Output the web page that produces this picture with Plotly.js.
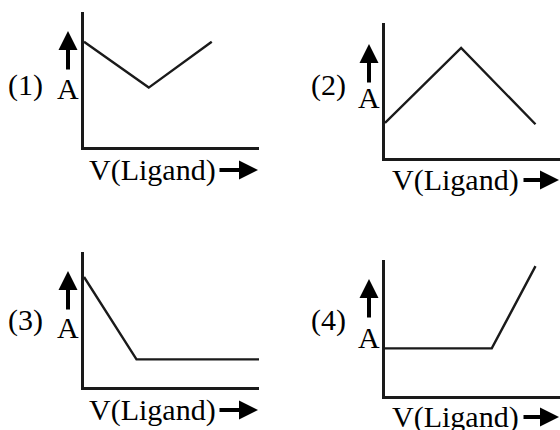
<!DOCTYPE html>
<html>
<head>
<meta charset="utf-8">
<script src="https://cdn.plot.ly/plotly-3.0.1.min.js"></script>
<style>
  html, body { margin: 0; padding: 0; background: #fff; }
  #plot { width: 560px; height: 430px; }
</style>
</head>
<body>
<div id="plot"></div>
<script>
// absorbance vs volume of ligand, four sketches
const panelNames = ["(1)", "(2)", "(3)", "(4)"]
const xLabel = "V(Ligand)"
const yLabel = "A"

const vol1 = [0, 3.7, 7.3]
const abs1 = [7.8, 4.4, 7.8]
const vol2 = [0, 4.35, 8.6]
const abs2 = [2.6, 8.15, 2.5]
const vol3 = [0, 3.0, 10]
const abs3 = [8.15, 2.05, 2.05]
const vol4 = [0, 6.1, 8.6]
const abs4 = [3.5, 3.5, 9.55]

const W = 560, H = 430
const px = v => v / W
const py = v => 1 - v / H

// panel boxes in pixels: left, right, top, bottom
const boxes = [
    [84, 259, 12, 147],
    [385, 560, 23, 158],
    [84, 259, 252, 387],
    [385, 560, 260, 396]
]

const seriesX = [vol1, vol2, vol3, vol4]
const seriesY = [abs1, abs2, abs3, abs4]

let traces = []
let layout = {
    width: W, height: H,
    margin: {l: 0, r: 0, t: 0, b: 0},
    paper_bgcolor: "#fff",
    plot_bgcolor: "rgba(0,0,0,0)",
    showlegend: false,
    font: {family: "Liberation Serif, Times New Roman, serif", color: "#000"},
    annotations: []
}

for (let i = 0; i < 4; i++) {
    let n = i === 0 ? "" : String(i + 1)
    traces.push({
        x: seriesX[i], y: seriesY[i],
        xaxis: "x" + n, yaxis: "y" + n,
        mode: "lines", type: "scatter",
        line: {color: "#1a1a1a", width: 2.4},
        hoverinfo: "skip"
    })
    let b = boxes[i]
    let axisCommon = {
        range: [0, 10], fixedrange: true,
        showgrid: false, zeroline: false,
        showticklabels: false, ticks: "",
        showline: true, linecolor: "#1a1a1a", linewidth: 3
    }
    layout["xaxis" + n] = Object.assign({}, axisCommon, {
        domain: [px(b[0]), px(b[1])], anchor: "y" + n
    })
    layout["yaxis" + n] = Object.assign({}, axisCommon, {
        domain: [py(b[3]), py(b[2])], anchor: "x" + n
    })
}

// labels: [name x, name y, A x, A y, up-arrow tip y, xlabel x, xlabel y, right-arrow tip x]
const labelPos = [
    [25, 85, 68, 88, 31, 153, 170, 258],
    [328, 85, 369, 98, 44, 455, 180, 562],
    [25, 320, 68, 327, 271, 153, 410, 258],
    [328, 320, 369, 337, 279, 455, 417, 562]
]

function txt(s, x, y) {
    layout.annotations.push({
        text: s, x: px(x), y: py(y), xref: "paper", yref: "paper",
        xanchor: "center", yanchor: "middle", showarrow: false,
        font: {size: 30, color: "#000"}
    })
}
function arrow(x, y, ax, ay) {
    layout.annotations.push({
        text: "", x: px(x), y: py(y), xref: "paper", yref: "paper",
        ax: ax, ay: ay, showarrow: true,
        arrowhead: 2, arrowsize: 0.95, arrowwidth: 4, arrowcolor: "#000"
    })
}

for (let i = 0; i < 4; i++) {
    let p = labelPos[i]
    txt(panelNames[i], p[0], p[1])
    txt(yLabel, p[2], p[3])
    arrow(p[2], p[4], 0, 40)
    txt(xLabel, p[5], p[6])
    arrow(p[7], p[6], -40, 0)
}

Plotly.newPlot("plot", traces, layout, {staticPlot: true})
</script>
</body>
</html>
